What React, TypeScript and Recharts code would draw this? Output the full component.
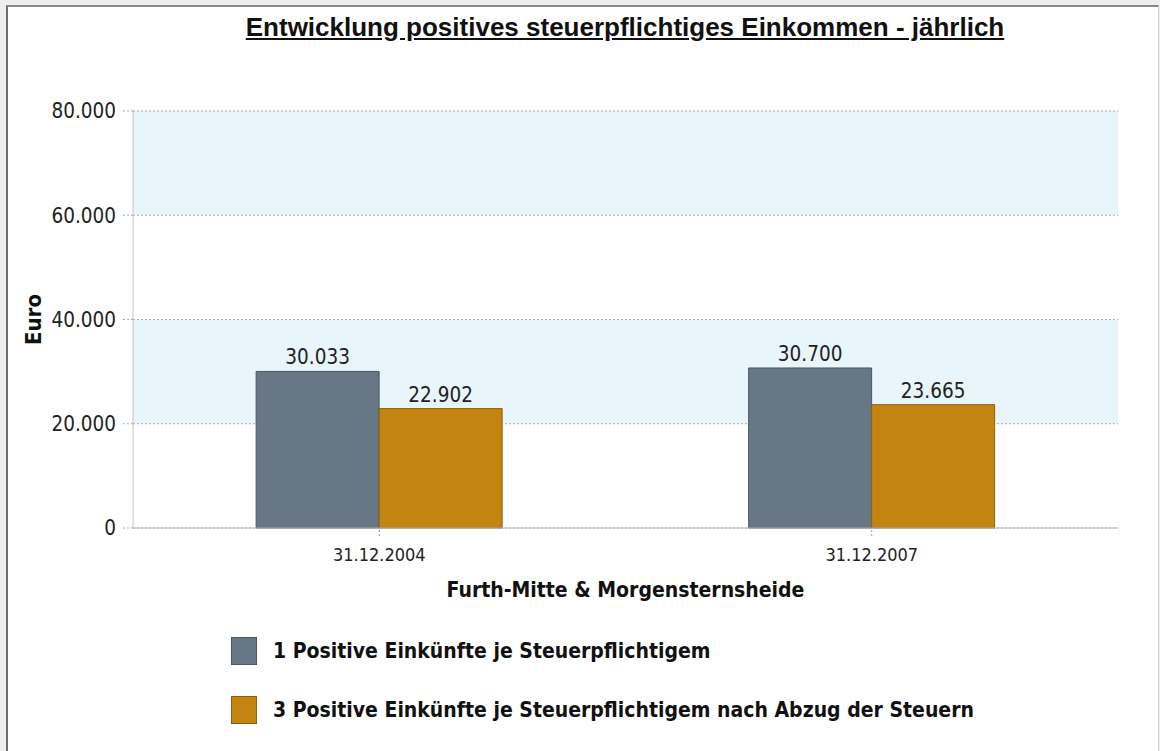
import React from "react"
import {
  BarChart,
  Bar,
  XAxis,
  YAxis,
  CartesianGrid,
  LabelList,
} from "recharts"

const categories = ["31.12.2004", "31.12.2007"]
const positiveIncome = [30033, 30700]
const afterTaxIncome = [22902, 23665]
const yTicks = [0, 20000, 40000, 60000, 80000]

const seriesNames = [
  "1 Positive Einkünfte je Steuerpflichtigem",
  "3 Positive Einkünfte je Steuerpflichtigem nach Abzug der Steuern",
]
const seriesColors = ["#677786", "#c48410"]
const seriesStrokes = ["#4b5762", "#8d5f0c"]

const data = categories.map((name, i) => ({
  name,
  positive: positiveIncome[i],
  afterTax: afterTaxIncome[i],
}))

const fmt = (v: number) => String(v).replace(/\B(?=(\d{3})+(?!\d))/g, ".")

const font = "'DejaVu Sans Condensed', 'DejaVu Sans', sans-serif"

export default function App() {
  return (
    <div
      style={{
        position: "absolute",
        left: 0,
        top: 0,
        width: 1160,
        height: 751,
        overflow: "hidden",
        background: "#eeeeee",
      }}
    >
      <div
        style={{
          position: "absolute",
          left: 6,
          top: 5,
          width: 1150,
          height: 800,
          background: "#ffffff",
          borderTop: "2px solid #8a8a8a",
          borderLeft: "2px solid #6e6e6e",
          borderRight: "1px solid #d4d4d4",
        }}
      />
      <div
        style={{
          position: "absolute",
          left: 0,
          top: 12,
          width: 1250,
          textAlign: "center",
          fontFamily: "'Liberation Sans', Arial, sans-serif",
          fontWeight: "bold",
          fontSize: 26,
          color: "#111",
          textDecoration: "underline",
        }}
      >
        Entwicklung positives steuerpflichtiges Einkommen - jährlich
      </div>
      <div style={{ position: "absolute", left: 0, top: 0 }}>
        <BarChart
          width={1160}
          height={751}
          data={data}
          margin={{ top: 111, right: 42, bottom: 148, left: 33 }}
          barCategoryGap="25%"
          barGap={0}
        >
          <CartesianGrid
            vertical={false}
            stroke="#a8a8a8"
            strokeDasharray="2 2"
            horizontalFill={["#e8f5fa", "#ffffff"]}
            fillOpacity={1}
          />
          <XAxis
            dataKey="name"
            height={75}
            axisLine={{ stroke: "#b8b8b8" }}
            tickLine={{ stroke: "#999", strokeDasharray: "2 2" }}
            tickSize={8}
            tickMargin={12}
            tick={{ fill: "#222", fontSize: 18, fontFamily: font }}
            label={{
              value: "Furth-Mitte & Morgensternsheide",
              position: "insideBottom",
              offset: 6,
              style: { fill: "#111", fontSize: 21, fontWeight: "bold", fontFamily: font },
            }}
          />
          <YAxis
            width={100}
            domain={[0, 80000]}
            ticks={yTicks}
            tickFormatter={fmt}
            axisLine={{ stroke: "#c4c4c4" }}
            tickLine={{ stroke: "#a8a8a8", strokeDasharray: "2 2" }}
            tickSize={10}
            tickMargin={7}
            tick={{ fill: "#222", fontSize: 20.5, fontFamily: font }}
            label={{
              value: "Euro",
              angle: -90,
              position: "insideLeft",
              offset: 0,
              style: { textAnchor: "middle", fill: "#111", fontSize: 22, fontWeight: "bold", fontFamily: font },
            }}
          />
          <YAxis
            yAxisId="frame"
            orientation="right"
            width={0}
            tick={false}
            tickLine={false}
            axisLine={{ stroke: "#c4c4c4" }}
          />
          <Bar
            dataKey="positive"
            name={seriesNames[0]}
            fill={seriesColors[0]}
            stroke={seriesStrokes[0]}
            isAnimationActive={false}
          >
            <LabelList
              dataKey="positive"
              position="top"
              offset={7}
              formatter={(v: number) => fmt(v)}
              style={{ fill: "#222", fontSize: 20.5, fontFamily: font }}
            />
          </Bar>
          <Bar
            dataKey="afterTax"
            name={seriesNames[1]}
            fill={seriesColors[1]}
            stroke={seriesStrokes[1]}
            isAnimationActive={false}
          >
            <LabelList
              dataKey="afterTax"
              position="top"
              offset={7}
              formatter={(v: number) => fmt(v)}
              style={{ fill: "#222", fontSize: 20.5, fontFamily: font }}
            />
          </Bar>
        </BarChart>
      </div>
      <div style={{ position: "absolute", left: 231, top: 636, fontFamily: font }}>
        {seriesNames.map((n, i) => (
          <div
            key={n}
            style={{ display: "flex", alignItems: "center", height: 30, marginBottom: i === 0 ? 29 : 0 }}
          >
            <div
              style={{
                width: 26,
                height: 28,
                background: seriesColors[i],
                border: `1px solid ${seriesStrokes[i]}`,
                boxSizing: "border-box",
                marginRight: 16,
              }}
            />
            <span style={{ fontSize: 21, fontWeight: "bold", color: "#111" }}>{n}</span>
          </div>
        ))}
      </div>
    </div>
  )
}
